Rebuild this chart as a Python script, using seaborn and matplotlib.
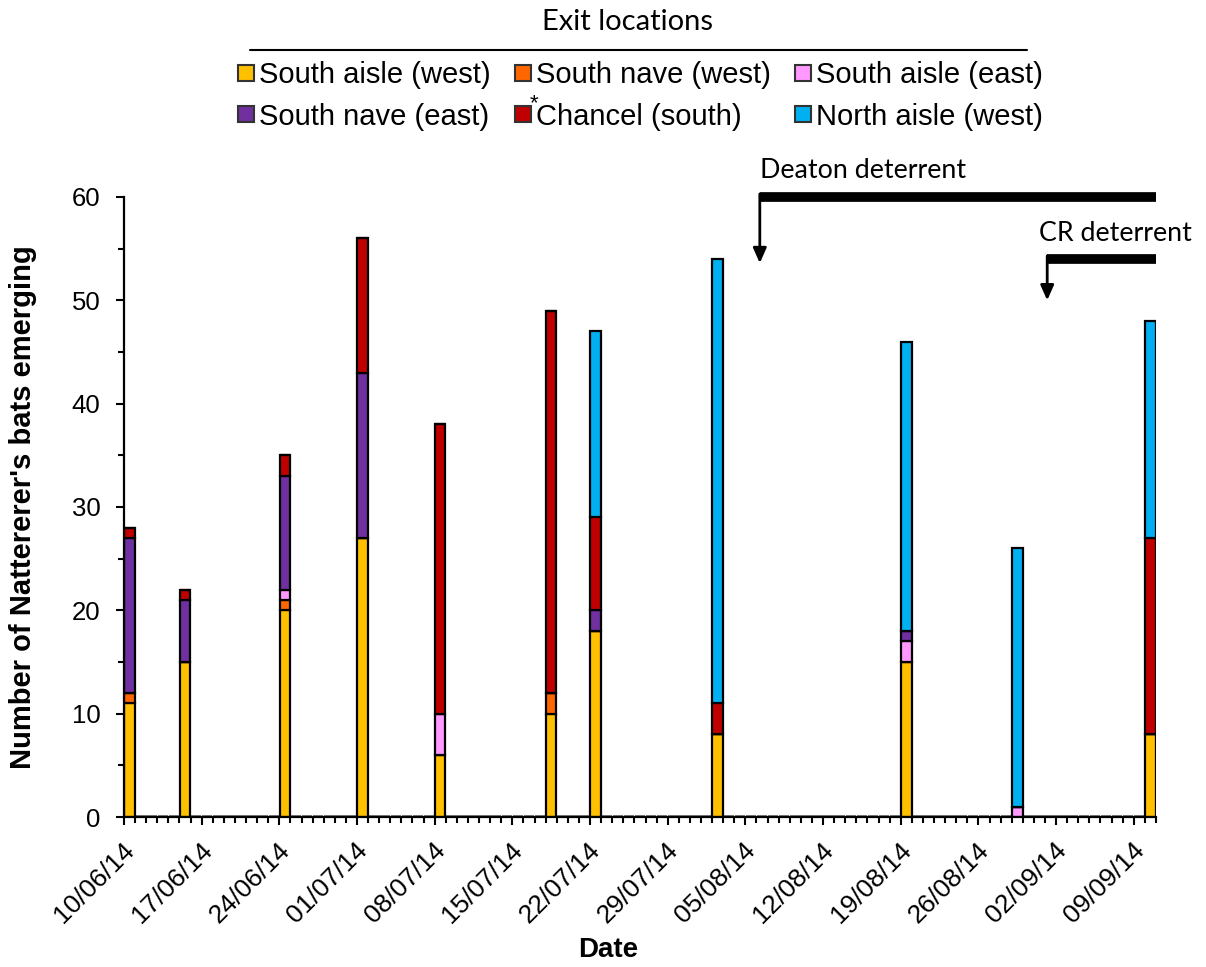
import numpy as np
import pandas as pd
import matplotlib
matplotlib.use("Agg")
import matplotlib.pyplot as plt
import matplotlib.transforms as mtransforms
from matplotlib.lines import Line2D
import seaborn as sns

# ---------------- data ----------------
survey_dates = ["10/06/14", "15/06/14", "24/06/14", "01/07/14", "08/07/14", "18/07/14",
                "22/07/14", "02/08/14", "19/08/14", "29/08/14", "10/09/14"]
south_aisle_west = [11, 15, 20, 27, 6, 10, 18, 8, 15, 0, 8]
south_nave_west = [1, 0, 1, 0, 0, 2, 0, 0, 0, 0, 0]
south_aisle_east = [0, 0, 1, 0, 4, 0, 0, 0, 2, 1, 0]
south_nave_east = [15, 6, 11, 16, 0, 0, 2, 0, 1, 0, 0]
chancel_south = [1, 1, 2, 13, 28, 37, 9, 3, 0, 0, 19]
north_aisle_west = [0, 0, 0, 0, 0, 0, 18, 43, 28, 25, 21]

locations = ["South aisle (west)", "South nave (west)", "South aisle (east)",
             "South nave (east)", "Chancel (south)", "North aisle (west)"]
colors = ["#FFC000", "#FF6600", "#FF99FF", "#7030A0", "#C00000", "#00B0F0"]

tick_labels = ["10/06/14", "17/06/14", "24/06/14", "01/07/14", "08/07/14", "15/07/14",
               "22/07/14", "29/07/14", "05/08/14", "12/08/14", "19/08/14", "26/08/14",
               "02/09/14", "09/09/14"]
axis_start = "10/06/14"
axis_end = "11/09/14"

deaton_date = "06/08/14"
cr_date = "01/09/14"

# ---------------- prep ----------------
t0 = pd.to_datetime(axis_start, format="%d/%m/%y")
def day(s):
    return (pd.to_datetime(s, format="%d/%m/%y") - t0).days

days = [day(d) for d in survey_dates]
series = [south_aisle_west, south_nave_west, south_aisle_east,
          south_nave_east, chancel_south, north_aisle_west]
rows = []
for loc, vals in zip(locations, series):
    for d, v in zip(days, vals):
        rows.append({"day": d + 0.5, "location": loc, "count": float(v)})
df = pd.DataFrame(rows)
xmax = day(axis_end)

# ---------------- plot ----------------
sns.set_style("white")
plt.rcParams["font.family"] = ["Liberation Sans", "DejaVu Sans"]
plt.rcParams["text.color"] = "black"
plt.rcParams["axes.labelcolor"] = "black"
plt.rcParams["xtick.color"] = "black"
plt.rcParams["ytick.color"] = "black"

fig = plt.figure(figsize=(12.06, 9.67), dpi=100)
ax = fig.add_axes([0.1028, 0.1551, 0.9585 - 0.1028, 0.7963 - 0.1551])

sns.histplot(data=df, x="day", weights="count", hue="location",
             hue_order=locations[::-1], palette=dict(zip(locations, colors)),
             multiple="stack", binwidth=1, binrange=(0, xmax), shrink=0.95,
             edgecolor="black", linewidth=1.6, alpha=1, legend=False, ax=ax)

ax.set_xlim(0, xmax)
ax.set_ylim(0, 60)
ax.set_xticks([day(s) for s in tick_labels])
ax.set_xticklabels(tick_labels, rotation=45, ha="right", rotation_mode="anchor", fontsize=19)
ax.set_xticks(np.arange(0, xmax + 1), minor=True)
ax.set_yticks(np.arange(0, 61, 10))
ax.set_yticks(np.arange(0, 61, 5), minor=True)
ax.tick_params(axis="y", labelsize=18.5)
ax.tick_params(which="both", bottom=True, left=True, top=False, right=False)
ax.tick_params(which="major", direction="out", length=6, width=1.5, color="black")
ax.tick_params(which="minor", direction="out", length=4, width=1.5, color="black")
ax.tick_params(axis="y", which="major", pad=11)
ax.tick_params(axis="x", which="major", pad=9)
shift = mtransforms.ScaledTranslation(-2 / 100, 0, fig.dpi_scale_trans)
for lab in ax.get_xticklabels():
    lab.set_transform(lab.get_transform() + shift)
for s in ["top", "right"]:
    ax.spines[s].set_visible(False)
for s in ["left", "bottom"]:
    ax.spines[s].set_color("black")
    ax.spines[s].set_linewidth(1.6)

ax.set_xlabel("Date", fontsize=20, fontweight="bold")
ax.set_ylabel("Number of Nattererer's bats emerging", fontsize=21, fontweight="bold")
ax.xaxis.set_label_coords(0.469, -0.1935)
ax.yaxis.set_label_coords(-0.0843, 0.5)

# deterrent annotations
ann_font = ["Lato", "DejaVu Sans"]
dx = day(deaton_date) + 0.3
cx = day(cr_date) + 0.2
ax.plot([dx, xmax], [60, 60], color="black", lw=7, solid_capstyle="butt", clip_on=False)
ax.annotate("", xy=(dx, 53.6), xytext=(dx, 60.3),
            arrowprops=dict(arrowstyle="-|>,head_width=0.4,head_length=0.9", color="black", lw=2,
                            shrinkA=0, shrinkB=0), annotation_clip=False)
ax.text(dx, 62.6, "Deaton deterrent", fontsize=19.3, family=ann_font, ha="left", va="center")
ax.plot([cx, xmax], [54.0, 54.0], color="black", lw=7, solid_capstyle="butt", clip_on=False)
ax.annotate("", xy=(cx, 50.0), xytext=(cx, 54.3),
            arrowprops=dict(arrowstyle="-|>,head_width=0.4,head_length=0.9", color="black", lw=2,
                            shrinkA=0, shrinkB=0), annotation_clip=False)
ax.text(cx - 0.7, 56.5, "CR deterrent", fontsize=19.3, family=ann_font, ha="left", va="center")

# legend
handles = [Line2D([0], [0], marker="s", linestyle="none", markersize=12,
                  markerfacecolor=c, markeredgecolor="#333333", markeredgewidth=1.5)
           for c in colors]
order = [0, 3, 1, 4, 2, 5]
leg = fig.legend([handles[i] for i in order], [locations[i] for i in order],
                 loc="center", bbox_to_anchor=(0.531, 1 - 96 / 967), ncol=3, frameon=False,
                 fontsize=21, handlelength=0.6, handletextpad=0.15, columnspacing=0.8,
                 labelspacing=0.45, borderaxespad=0)
fig.text(628 / 1206, 1 - 22 / 967, "Exit locations", fontsize=21, family=ann_font,
         ha="center", va="center")
fig.add_artist(Line2D([250 / 1206, 1027 / 1206], [1 - 50 / 967, 1 - 50 / 967],
                      color="black", lw=1.5))

# superscript asterisk before "Chancel (south)"
fig.canvas.draw()
renderer = fig.canvas.get_renderer()
chancel_text = leg.get_texts()[order.index(4)]
bb = chancel_text.get_window_extent(renderer)
fig.text((bb.x0 - 2) / fig.bbox.width, (bb.y1 - 1) / fig.bbox.height, "*",
         fontsize=16, ha="center", va="center")

fig.savefig("out.png", dpi=100)
